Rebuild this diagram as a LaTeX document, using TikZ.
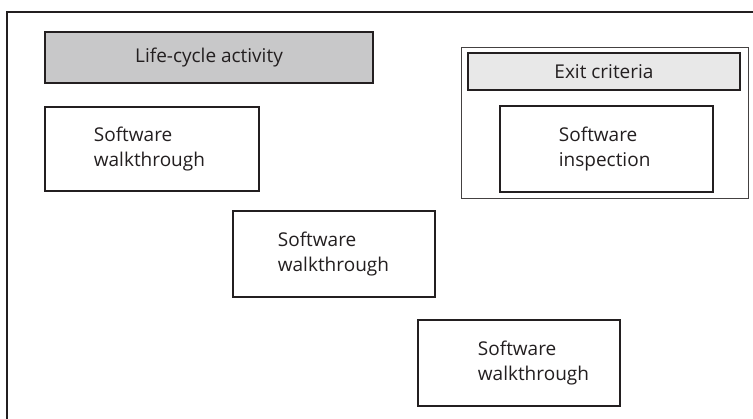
\documentclass[tikz,border=0pt]{standalone}
\usepackage{fontspec}
\setmainfont{Open Sans}
\definecolor{ink}{HTML}{231F20}
\definecolor{darkfill}{HTML}{C8C8C9}
\definecolor{lightfill}{HTML}{E8E8E8}
\begin{document}
\begin{tikzpicture}[x=1pt,y=1pt,
  box/.style={draw=ink, line width=2.6pt, rectangle, inner sep=0pt, fill=white},
  txt/.style={text=ink, font=\fontsize{19}{25}\selectfont, align=left, inner sep=0pt, anchor=west},
  ctxt/.style={text=ink, font=\fontsize{19}{25}\selectfont, inner sep=0pt}]
\useasboundingbox (0,0) rectangle (753,-419);
% cropped outer frame (top and left edges only)
\coordinate (fbl) at (7,-419);
\coordinate (ftl) at (7,-12);
\coordinate (ftr) at (753,-12);
\draw[ink, line width=2.4pt] (fbl) -- (ftl) -- (ftr);
% life-cycle activity
\node[box, fill=darkfill, minimum width=328pt, minimum height=51pt] (lca) at (209,-57.5) {};
\node[ctxt] (lcat) at (lca.center) {Life-cycle activity};
% exit group
\node[draw=ink!85, line width=1.8pt, rectangle, minimum width=287pt, minimum height=151pt, inner sep=0pt] (exg) at (605,-123) {};
\node[box, fill=lightfill, minimum width=272pt, minimum height=37pt] (exc) at (604,-71.5) {};
\node[ctxt] (exct) at (exc.center) {Exit criteria};
\node[box, minimum width=213pt, minimum height=86pt] (insp) at (606.5,-149) {};
\node[txt] (inspt) at ([xshift=60pt]insp.west) {Software\\inspection};
% walkthroughs
\node[box, minimum width=214pt, minimum height=84pt] (w1) at (152,-149) {};
\node[txt] (w1t) at ([xshift=50pt]w1.west) {Software\\walkthrough};
\node[box, minimum width=202pt, minimum height=86pt] (w2) at (334,-254) {};
\node[txt] (w2t) at ([xshift=46pt]w2.west) {Software\\walkthrough};
\node[box, minimum width=202pt, minimum height=86pt] (w3) at (519,-363) {};
\node[txt] (w3t) at ([xshift=61pt]w3.west) {Software\\walkthrough};
\end{tikzpicture}
\end{document}
